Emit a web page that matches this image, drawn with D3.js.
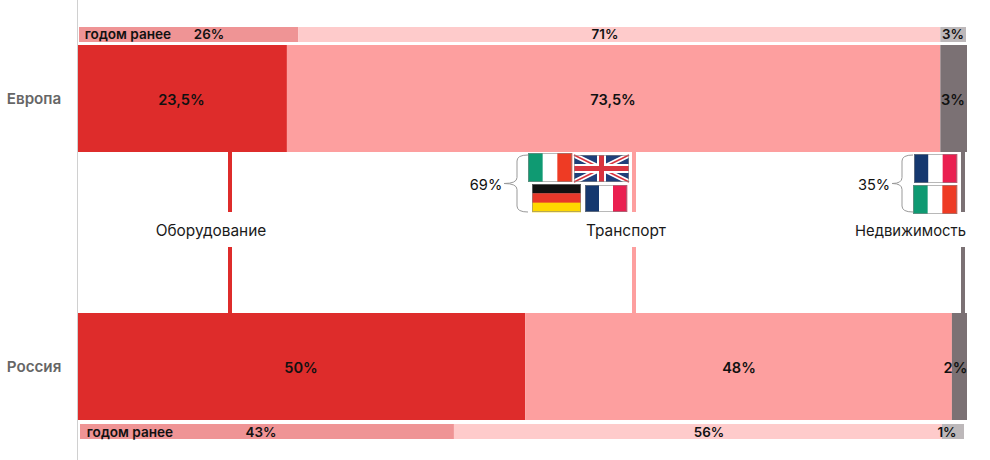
<!DOCTYPE html>
<html>
<head>
<meta charset="utf-8">
<script src="https://cdn.jsdelivr.net/npm/d3@7/dist/d3.min.js"></script>
<style>
  html, body { margin: 0; padding: 0; background: #fff; }
  svg { display: block; }
  text { font-family: Inter, "Liberation Sans", sans-serif; fill: #1a1a1a; }
</style>
</head>
<body>
<svg width="990" height="460"></svg>
<script>
// values (widths), labels as printed
var categories = ["Оборудование", "Транспорт", "Недвижимость"];
var europe = [23.5, 73.5, 3];
var russia = [50.3, 48, 1.7];
var europePrev = [24.7, 72.4, 2.9];
var russiaPrev = [42.3, 55.2, 2.5];
var europeLabels = ["23,5%", "73,5%", "3%"];
var russiaLabels = ["50%", "48%", "2%"];
var europePrevLabels = ["26%", "71%", "3%"];
var russiaPrevLabels = ["43%", "56%", "1%"];
var colors = ["#de2c2b", "#fd9f9f", "#7b7174"];
var prevColors = ["#ef9495", "#fecbcb", "#bdb8ba"];
var flagItaly = ["#0f9a72", "#ffffff", "#ee3b24"];
var flagFrance = ["#15386f", "#ffffff", "#ea1f50"];
var flagGermany = ["#111111", "#e8382a", "#ffd800"];

var svg = d3.select("svg");
var x = d3.scaleLinear().domain([0, 100]).range([78, 967]);
var xTop = d3.scaleLinear().domain([0, 100]).range([79, 966]);
var xBottom = d3.scaleLinear().domain([0, 100]).range([80, 964]);

function stack(vals) {
  var sum = 0;
  return vals.map(function(v) {
    var s = { x0: sum, x1: sum + v };
    sum += v;
    return s;
  });
}

svg.append("line")
  .attr("x1", 77.5).attr("x2", 77.5).attr("y1", 0).attr("y2", 460)
  .attr("stroke", "#d0d0d0");

function drawBar(vals, scale, y, h, fills) {
  svg.append("g").selectAll("rect")
    .data(stack(vals))
    .enter()
    .append("rect")
    .attr("x", function(d) { return scale(d.x0); })
    .attr("y", y)
    .attr("width", function(d) { return scale(d.x1) - scale(d.x0); })
    .attr("height", h)
    .attr("fill", function(d, i) { return fills[i]; });
}

drawBar(europePrev, xTop, 27, 15, prevColors);
drawBar(europe, x, 45, 107, colors);
drawBar(russia, x, 313, 107, colors);
drawBar(russiaPrev, xBottom, 424, 15, prevColors);

// connector lines between the bars
var lineX = [230, 634, 963];
[[152, 212], [247, 313]].forEach(function(seg) {
  svg.append("g").selectAll("rect")
    .data(lineX)
    .enter()
    .append("rect")
    .attr("x", function(d) { return d - 2; })
    .attr("y", seg[0])
    .attr("width", 4)
    .attr("height", seg[1] - seg[0])
    .attr("fill", function(d, i) { return colors[i]; });
});

function label(txt, px, py, size, weight, fill) {
  return svg.append("text")
    .attr("x", px).attr("y", py)
    .attr("text-anchor", "middle")
    .attr("font-size", size)
    .attr("font-weight", weight)
    .style("fill", fill || "#111")
    .text(txt);
}

svg.selectAll("text.cat")
  .data(categories)
  .enter()
  .append("text")
  .attr("class", "cat")
  .attr("x", function(d, i) { return [211, 626, 910.5][i]; })
  .attr("y", 236)
  .attr("text-anchor", "middle")
  .attr("font-size", function(d, i) { return i == 2 ? 14.8 : 15.4; })
  .text(function(d) { return d; });

label("Европа", 34, 104, 15.2, 600, "#666");
label("Россия", 34, 372, 15.2, 600, "#666");

// big bar labels
[181.5, 613, 953].forEach(function(px, i) { label(europeLabels[i], px, 105, 14.6, 600); });
[301, 739, 955.5].forEach(function(px, i) { label(russiaLabels[i], px, 373, 14.6, 600); });

// small bar labels
label("годом ранее", 128, 39, 13.6, 600);
[209, 605, 953].forEach(function(px, i) { label(europePrevLabels[i], px, 39, 13.4, 600); });
label("годом ранее", 130, 437, 13.6, 600);
[261, 709, 947].forEach(function(px, i) { label(russiaPrevLabels[i], px, 437, 13.4, 600); });

label("69%", 486, 190, 14.6, 400);
label("35%", 874, 190, 14.6, 400);

function bracket(tip, spine, end, top, bottom) {
  var mid = (top + bottom) / 2, r = 6;
  var p = d3.path();
  p.moveTo(end, top);
  p.quadraticCurveTo(spine, top, spine, top + r);
  p.lineTo(spine, mid - r);
  p.quadraticCurveTo(spine, mid, tip, mid);
  p.quadraticCurveTo(spine, mid, spine, mid + r);
  p.lineTo(spine, bottom - r);
  p.quadraticCurveTo(spine, bottom, end, bottom);
  svg.append("path").attr("d", p.toString())
    .attr("fill", "none").attr("stroke", "#999").attr("stroke-width", 1);
}
bracket(504, 517, 528, 155, 212);
bracket(892, 902, 913, 155, 212);

// flags
function flagEdge(g, fx, fy, w, h) {
  g.append("rect").attr("x", fx + 0.5).attr("y", fy + 0.5)
    .attr("width", w - 1).attr("height", h - 1)
    .attr("fill", "none").attr("stroke", "#888").attr("stroke-opacity", 0.6);
}
function vFlag(cols, fx, fy, w, h) {
  var g = svg.append("g");
  g.selectAll("rect").data(cols).enter().append("rect")
    .attr("x", function(d, i) { return fx + i * w / 3; })
    .attr("y", fy)
    .attr("width", w / 3 + 0.3)
    .attr("height", h)
    .attr("fill", function(d) { return d; });
  flagEdge(g, fx, fy, w, h);
}
function hFlag(cols, fx, fy, w, h) {
  var g = svg.append("g");
  g.selectAll("rect").data(cols).enter().append("rect")
    .attr("x", fx)
    .attr("y", function(d, i) { return fy + i * h / 3; })
    .attr("width", w)
    .attr("height", h / 3 + 0.3)
    .attr("fill", function(d) { return d; });
  flagEdge(g, fx, fy, w, h);
}
function ukFlag(fx, fy, w, h) {
  var g = svg.append("g");
  g.append("rect").attr("x", fx).attr("y", fy).attr("width", w).attr("height", h).attr("fill", "#1f3f7a");
  var d1 = "M" + fx + "," + fy + "L" + (fx + w) + "," + (fy + h) + "M" + (fx + w) + "," + fy + "L" + fx + "," + (fy + h);
  g.append("path").attr("d", d1).attr("stroke", "#fff").attr("stroke-width", 5);
  g.append("path").attr("d", d1).attr("stroke", "#d9343f").attr("stroke-width", 1.6);
  var d2 = "M" + (fx + w / 2) + "," + fy + "V" + (fy + h) + "M" + fx + "," + (fy + h / 2) + "H" + (fx + w);
  g.append("path").attr("d", d2).attr("stroke", "#fff").attr("stroke-width", 9);
  g.append("path").attr("d", d2).attr("stroke", "#d9343f").attr("stroke-width", 5);
  flagEdge(g, fx, fy, w, h);
}
vFlag(flagItaly, 528, 153, 44, 29);
ukFlag(574, 155, 55, 27);
hFlag(flagGermany, 532, 184, 49, 28);
vFlag(flagFrance, 585, 185, 42, 27);
vFlag(flagFrance, 914, 154, 43, 29);
vFlag(flagItaly, 913, 185, 44, 29);
</script>
</body>
</html>
